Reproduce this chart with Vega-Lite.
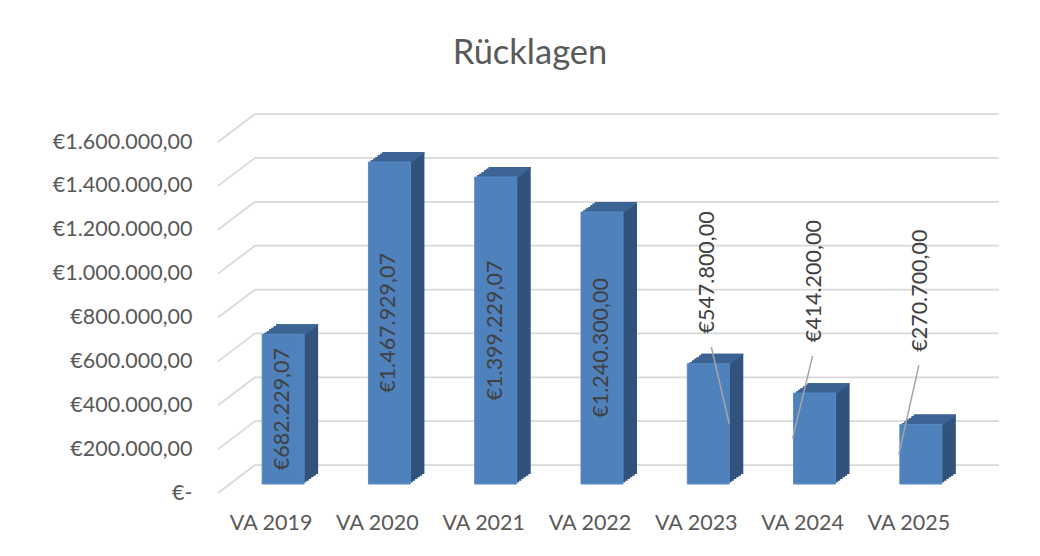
{
  "$schema": "https://vega.github.io/schema/vega-lite/v6.json",
  "autosize": {"type": "none"},
  "width": 744,
  "height": 351,
  "padding": {"left": 218, "top": 142, "right": 78, "bottom": 63},
  "background": "white",
  "title": {"text": "Rücklagen", "anchor": "middle", "frame": "group", "dx": -60, "offset": 42, "font": "Lato", "fontSize": 34.5, "fontWeight": "normal", "color": "#595959"},
  "config": {
    "view": {"stroke": null},
    "locale": {"number": {"decimal": ",", "thousands": ".", "grouping": [3], "currency": ["€", ""]}},
    "font": "Lato",
    "scale": {"bandPaddingInner": 0.605, "bandPaddingOuter": 0.3025}
  },
  "data": {"values": [
    {"year": "VA 2019", "value": 682229.07},
    {"year": "VA 2020", "value": 1467929.07},
    {"year": "VA 2021", "value": 1399229.07},
    {"year": "VA 2022", "value": 1240300.00},
    {"year": "VA 2023", "value": 547800.00},
    {"year": "VA 2024", "value": 414200.00},
    {"year": "VA 2025", "value": 270700.00}
  ]},
  "resolve": {"scale": {"x": "independent"}},
  "layer": [
    {
      "data": {"values": [{"g": 0}, {"g": 200000}, {"g": 400000}, {"g": 600000}, {"g": 800000}, {"g": 1000000}, {"g": 1200000}, {"g": 1400000}, {"g": 1600000}]},
      "layer": [
        {
          "mark": {"type": "rule", "color": "#D9D9D9", "strokeWidth": 1.75, "xOffset": 37, "x2Offset": 37, "yOffset": -28},
          "encoding": {
            "x": {"datum": 0, "type": "quantitative", "scale": {"domain": [0, 1]}, "axis": null},
            "x2": {"datum": 1},
            "y": {"field": "g", "type": "quantitative", "title": null, "scale": {"domain": [0, 1600000], "nice": false}}
          }
        },
        {
          "mark": {"type": "rule", "color": "#D9D9D9", "strokeWidth": 1.75, "x2Offset": 37, "y2Offset": -28},
          "encoding": {
            "x": {"datum": 0, "type": "quantitative", "scale": {"domain": [0, 1]}, "axis": null},
            "x2": {"datum": 0},
            "y": {"field": "g", "type": "quantitative", "title": null},
            "y2": {"field": "g"}
          }
        }
      ]
    },
    {
      "encoding": {
        "x": {"field": "year", "type": "nominal", "title": null},
        "y": {"field": "value", "type": "quantitative", "title": null}
      },
      "layer": [
        {"mark": {"type": "bar", "color": "#30527C", "xOffset": 14.33, "yOffset": -10.67, "y2Offset": -10.67}},
        {"mark": {"type": "bar", "color": "#30527C", "xOffset": 16.67, "yOffset": -12.33, "y2Offset": -12.33}},
        {"mark": {"type": "bar", "color": "#30527C", "xOffset": 19, "yOffset": -14, "y2Offset": -14}},
        {"mark": {"type": "bar", "color": "#30527C", "xOffset": 21.33, "yOffset": -15.67, "y2Offset": -15.67}},
        {"mark": {"type": "bar", "color": "#30527C", "xOffset": 23.67, "yOffset": -17.33, "y2Offset": -17.33}},
        {"mark": {"type": "bar", "color": "#30527C", "xOffset": 26, "yOffset": -19, "y2Offset": -19}},
        {"mark": {"type": "bar", "color": "#3C6494", "xOffset": 12, "yOffset": -9, "y2Offset": -7}, "encoding": {"y2": {"field": "value"}}},
        {"mark": {"type": "bar", "color": "#3C6494", "xOffset": 14.33, "yOffset": -10.67, "y2Offset": -8.67}, "encoding": {"y2": {"field": "value"}}},
        {"mark": {"type": "bar", "color": "#3C6494", "xOffset": 16.67, "yOffset": -12.33, "y2Offset": -10.33}, "encoding": {"y2": {"field": "value"}}},
        {"mark": {"type": "bar", "color": "#3C6494", "xOffset": 19, "yOffset": -14, "y2Offset": -12}, "encoding": {"y2": {"field": "value"}}},
        {"mark": {"type": "bar", "color": "#3C6494", "xOffset": 21.33, "yOffset": -15.67, "y2Offset": -13.67}, "encoding": {"y2": {"field": "value"}}},
        {"mark": {"type": "bar", "color": "#3C6494", "xOffset": 23.67, "yOffset": -17.33, "y2Offset": -15.33}, "encoding": {"y2": {"field": "value"}}},
        {"mark": {"type": "bar", "color": "#3C6494", "xOffset": 26, "yOffset": -19, "y2Offset": -17}, "encoding": {"y2": {"field": "value"}}},
        {
          "mark": {"type": "bar", "color": "#4F81BD", "stroke": "#5A8AC4", "strokeWidth": 1, "xOffset": 12, "yOffset": -9, "y2Offset": -9},
          "encoding": {
            "x": {"field": "year", "type": "nominal", "title": null,
                  "axis": {"title": null, "domain": false, "ticks": false, "labelAngle": 0, "labelAlign": "center", "labelBaseline": "top", "labelPadding": 19, "labelFont": "Lato", "labelFontSize": 21.5, "labelColor": "#595959"}},
            "y": {"field": "value", "type": "quantitative", "title": null,
                  "axis": {"values": [0, 200000, 400000, 600000, 800000, 1000000, 1200000, 1400000, 1600000], "format": "$,.2f", "labelExpr": "datum.value == 0 ? '€-' : datum.label", "domain": false, "ticks": false, "grid": false, "title": null, "labelPadding": 26, "labelFont": "Lato", "labelFontSize": 21.5, "labelColor": "#595959"}}
          }
        },
        {
          "transform": [
            {"filter": "datum.year == 'VA 2023'"},
            {"calculate": "800000 + 0.3 * datum.value - 340000", "as": "ls"},
            {"calculate": "datum.value / 2", "as": "le"}
          ],
          "mark": {"type": "rule", "color": "#A6A6A6", "strokeWidth": 1.5, "xOffset": 15, "x2Offset": 33, "yOffset": -9, "y2Offset": -9},
          "encoding": {
            "x2": {"field": "year"},
            "y": {"field": "ls", "type": "quantitative", "title": null},
            "y2": {"field": "le"}
          }
        },
        {
          "transform": [
            {"filter": "datum.year == 'VA 2024' || datum.year == 'VA 2025'"},
            {"calculate": "800000 + 0.3 * datum.value - 340000", "as": "ls"},
            {"calculate": "datum.value / 2", "as": "le"}
          ],
          "mark": {"type": "rule", "color": "#A6A6A6", "strokeWidth": 1.5, "xOffset": 10, "x2Offset": -10, "yOffset": -9, "y2Offset": -9},
          "encoding": {
            "x2": {"field": "year"},
            "y": {"field": "ls", "type": "quantitative", "title": null},
            "y2": {"field": "le"}
          }
        },
        {
          "transform": [
            {"calculate": "datum.value > 600000 ? datum.value / 2 : 800000 + 0.3 * datum.value", "as": "lp"}
          ],
          "mark": {"type": "text", "angle": 270, "align": "center", "baseline": "middle", "font": "Lato", "fontSize": 21.5, "color": "#404040", "xOffset": 12, "yOffset": -9},
          "encoding": {
            "y": {"field": "lp", "type": "quantitative", "title": null},
            "text": {"field": "value", "type": "quantitative", "format": "$,.2f"}
          }
        }
      ]
    }
  ]
}
